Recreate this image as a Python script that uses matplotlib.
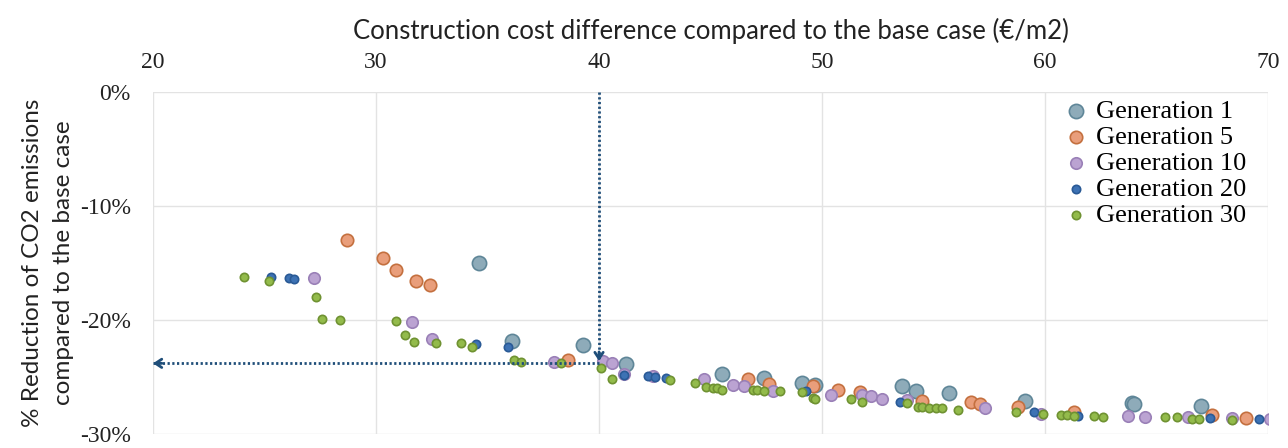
import matplotlib
matplotlib.use("Agg")
import matplotlib.pyplot as plt
from matplotlib.ticker import FuncFormatter, MultipleLocator

# === Data (cost difference in EUR/m2, CO2 reduction in %) ===
gen1_x = [34.6, 39.3, 36.1, 41.2, 45.5, 47.4, 49.1, 49.7, 53.6, 54.2, 55.7, 59.1, 63.9, 64.0, 67.0]
gen1_y = [-15.0, -22.2, -21.8, -23.9, -24.7, -25.1, -25.5, -25.7, -25.8, -26.2, -26.4, -27.1, -27.3, -27.4, -27.5]

gen5_x = [28.7, 30.3, 30.9, 31.8, 32.4, 38.6, 46.7, 47.6, 49.6, 50.7, 51.7, 54.5, 56.7, 57.1,
          58.8, 61.3, 67.5, 69.0]
gen5_y = [-13.0, -14.6, -15.6, -16.6, -16.9, -23.5, -25.2, -25.6, -25.8, -26.1, -26.3, -27.1, -27.2, -27.4,
          -27.6, -28.1, -28.3, -28.6]

gen10_x = [27.2, 31.6, 32.5, 38.0, 40.2, 40.6, 41.1, 42.4, 44.7, 46.0, 46.5, 47.8, 50.4, 51.8,
           52.2, 52.7, 53.8, 57.3, 59.8, 63.7, 64.5, 66.4, 68.4, 70.1]
gen10_y = [-16.3, -20.2, -21.7, -23.7, -23.6, -23.8, -24.7, -24.9, -25.2, -25.7, -25.8, -26.2, -26.6, -26.6,
           -26.7, -26.9, -27.0, -27.7, -28.2, -28.4, -28.5, -28.5, -28.6, -28.7]

gen20_x = [25.3, 26.1, 26.3, 34.5, 35.9, 41.1, 42.2, 42.5, 43.0, 49.3, 53.5, 59.5, 61.5, 67.4, 69.6]
gen20_y = [-16.2, -16.3, -16.4, -22.1, -22.4, -24.8, -24.9, -25.0, -25.1, -26.2, -27.2, -28.1, -28.4, -28.6, -28.7]

gen30_x = [24.1, 25.2, 27.3, 27.6, 28.4, 30.9, 31.3, 31.7, 32.7, 33.8, 34.3, 36.2, 36.5, 38.3,
           40.1, 40.6, 43.2, 44.3, 44.8, 45.1, 45.3, 45.5, 46.9, 47.1, 47.4, 48.1, 49.1, 49.6,
           49.7, 51.3, 51.8, 53.8, 54.3, 54.5, 54.8, 55.1, 55.4, 56.1, 58.7, 59.9, 60.7, 61.0,
           61.3, 62.2, 62.6, 65.4, 65.9, 66.6, 66.9, 68.4]
gen30_y = [-16.2, -16.6, -18.0, -19.9, -20.0, -20.1, -21.3, -21.9, -22.0, -22.0, -22.4, -23.5, -23.7, -23.8,
           -24.2, -25.2, -25.3, -25.5, -25.9, -26.0, -26.0, -26.1, -26.1, -26.1, -26.2, -26.2, -26.3, -26.8,
           -26.9, -26.9, -27.2, -27.3, -27.6, -27.6, -27.7, -27.7, -27.7, -27.9, -28.1, -28.2, -28.3, -28.3,
           -28.4, -28.4, -28.5, -28.5, -28.5, -28.7, -28.7, -28.8]

# Selected solution highlighted with the dotted arrows
chosen_cost = 40
chosen_reduction = -23.8

series = [
    ("Generation 1", gen1_x, gen1_y, "#8eabb9", "#5f8698", 105),
    ("Generation 5", gen5_x, gen5_y, "#e99e7b", "#c4703f", 80),
    ("Generation 10", gen10_x, gen10_y, "#bba3d2", "#9a80b7", 68),
    ("Generation 20", gen20_x, gen20_y, "#3d72b4", "#2a5a96", 36),
    ("Generation 30", gen30_x, gen30_y, "#93bb4b", "#6f9232", 36),
]

fig = plt.figure(figsize=(12.88, 4.48), dpi=100)
ax = fig.add_axes([0.1188, 0.0312, 0.8657, 0.7634])

for label, xs, ys, face, edge, size in series:
    ax.scatter(xs, ys, s=size, color=face, edgecolors=edge, linewidths=1.2,
               label=label, zorder=3)

# dotted guide lines with solid arrow heads pointing at the selected solution
arrow_color = "#1f4e79"
dots = (0, (0.8, 0.9))
ax.plot([chosen_cost, chosen_cost], [0, chosen_reduction + 0.3], color=arrow_color,
        lw=2, linestyle=dots, zorder=4, clip_on=False)
ax.plot([chosen_cost, 20], [chosen_reduction, chosen_reduction], color=arrow_color,
        lw=2, linestyle=dots, zorder=4, clip_on=False)
head = dict(arrowstyle="->,head_length=0.45,head_width=0.3", color=arrow_color, lw=2,
            shrinkA=0, shrinkB=0)
ax.annotate("", xy=(chosen_cost, chosen_reduction + 0.2), xytext=(chosen_cost, chosen_reduction + 1.0),
            arrowprops=head, zorder=5, annotation_clip=False)
ax.annotate("", xy=(20, chosen_reduction), xytext=(20.4, chosen_reduction),
            arrowprops=head, zorder=5, annotation_clip=False)

ax.set_xlim(20, 70)
ax.set_ylim(-30, 0)
ax.xaxis.set_major_locator(MultipleLocator(10))
ax.yaxis.set_major_locator(MultipleLocator(10))
ax.yaxis.set_major_formatter(FuncFormatter(lambda v, p: f"{v:.0f}%"))
ax.xaxis.tick_top()
ax.xaxis.set_label_position("top")
ax.tick_params(length=0, labelsize=17)
ax.tick_params(axis="x", pad=14)
ax.tick_params(axis="y", pad=16)
for lbl in ax.get_xticklabels() + ax.get_yticklabels():
    lbl.set_family("Liberation Serif")
    lbl.set_color("#222222")

ax.grid(True, color="#e3e3e3", linewidth=1)
ax.set_axisbelow(True)
for sp in ax.spines.values():
    sp.set_visible(False)

ax.set_xlabel("Construction cost difference compared to the base case (€/m2)",
              fontsize=18.5, family="Lato", color="#222222", labelpad=9)
ax.set_ylabel("% Reduction of CO2 emissions\ncompared to the base case",
              fontsize=17.5, family="Lato", color="#222222", labelpad=4, linespacing=1.6)

ax.legend(loc="upper right", frameon=False, prop={"family": "Liberation Serif", "size": 19},
          handletextpad=0.05, labelspacing=0.1, borderaxespad=0.0, handlelength=1.4,
          bbox_to_anchor=(0.99, 1.01))

fig.savefig("out.png", dpi=100)
